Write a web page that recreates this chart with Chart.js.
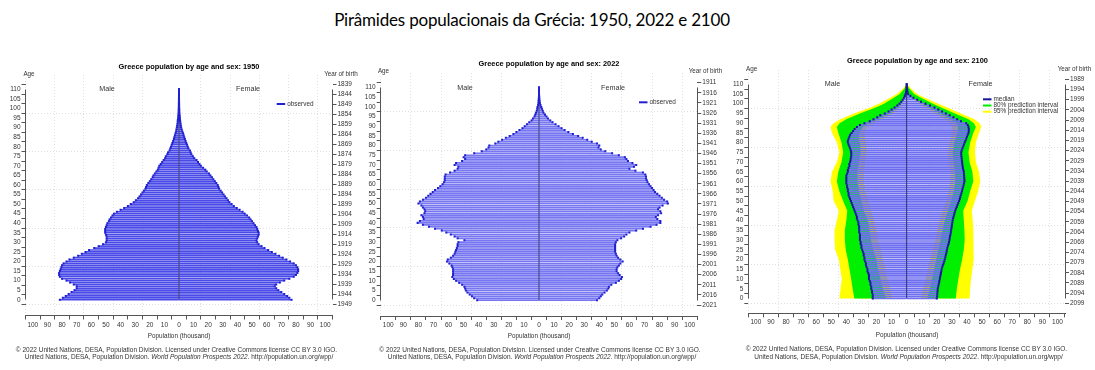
<!DOCTYPE html>
<html><head><meta charset="utf-8">
<script src="https://cdn.jsdelivr.net/npm/chart.js@4.4.1/dist/chart.umd.min.js"></script>
<style>
html,body{margin:0;padding:0;background:#fff;}
body{width:1095px;height:370px;position:relative;overflow:hidden;}
#title{position:absolute;left:0;top:9px;width:1064px;text-align:center;font-family:Lato,"Open Sans",sans-serif;font-size:17px;color:#000;line-height:22px;letter-spacing:-0.2px;}
canvas{position:absolute;top:0;}
</style></head><body>
<div id="title">Pirâmides populacionais da Grécia: 1950, 2022 e 2100</div>
<canvas id="c1" width="362" height="370" style="left:0px"></canvas>
<canvas id="c2" width="365" height="370" style="left:358px"></canvas>
<canvas id="c3" width="368" height="370" style="left:727px"></canvas>
<script>
// ---------- DATA (population in thousands, single years of age 0..110) ----------
const panelYears = [1950, 2022, 2100];
const ages = Array.from({length: 111}, (_, i) => i);
const ageTicks = [0,5,10,15,20,25,30,35,40,45,50,55,60,65,70,75,80,85,90,95,100,105,110];
const popTicks = [-100,-90,-80,-70,-60,-50,-40,-30,-20,-10,0,10,20,30,40,50,60,70,80,90,100];

const male1950 = [81.5,79.5,77.5,75.5,73.5,71.5,70,70,72,74.5,
 77,80,81.5,82,82,81.5,81,80.5,80,79,
 77,75,72,69,66.5,64,61.5,58,55,52,
 50,49.5,49.5,49.5,50,50.5,50.5,50.5,50,49.5,
 49,48,47.5,46.5,45.5,44.5,42.5,40,37.5,35,
 33,31,29.5,28,27,26,25,24,23,22.5,
 22,21,20,19,18,17.5,16.5,15.5,14.5,14,
 13.5,12.5,11.5,10.5,9.5,9,8,7.5,6.5,6,
 5.5,5,4.5,4,3.5,3.2,2.8,2.4,2,1.8,
 1.5,1.3,1.1,0.9,0.8,0.6,0.5,0.4,0.3,0.25,
 0.2,0.15,0.1,0.1,0.05,0.05,0,0,0,0,0];
const female1950 = [77,75.5,74,72,70,68,66.5,65.5,66.5,69,
 72,75.5,78.5,80,81,81.5,81.5,81,80,78.5,
 76,73.5,71,68.5,66,63.5,61,58.5,56.5,54.5,
 53.5,53,53.5,54,54.5,54.5,54,53.5,53,52,
 51,50,49,48,46.5,45,43.5,41.5,39.5,37.5,
 36,34.5,33.5,32.5,31.5,30.5,29.5,28.5,27.5,27,
 26.5,25.5,24.5,23.5,22.5,21.5,20.5,19,18,16.5,
 15,14,13,12,10.5,9.5,8.5,8,7.5,6.5,
 6,5.5,5,4.5,4,3.6,3.2,2.8,2.3,1.9,
 1.5,1.3,1.1,0.9,0.7,0.6,0.5,0.4,0.3,0.2,
 0.2,0.1,0.1,0.05,0.05,0,0,0,0,0,0];

const male2022 = [41,43,44.5,46,47.5,48.5,49,49.5,51,53,
 55,56.5,57.5,57,57,57,57,57.5,58,59.5,
 61,60.5,58.5,57,56,55.5,55,54.5,54,54,
 53.5,49.5,54,56,58.5,61.5,64.5,69,73,77,
 80.5,79,76.5,77,78,76,75.5,76,77,78,
 80,79,77,75,73.5,72,70.5,69,67,65.5,
 64,63,62.5,62.5,62.5,62,59,56,54,53.5,
 56,55,51,49,50,49,43,38,35,33.5,
 33,29,27,24.5,22,19.5,17,15,13,11,
 9.5,8,6.5,5,4,3,2.5,2,1.5,1.2,
 1,0.6,0.4,0.3,0.2,0.1,0,0,0,0,0];
const female2022 = [38.5,40,41,42,43.5,45,46,46.5,48,51,
 53,54.5,55,53.5,52.5,51.5,51.5,52,53,54,
 55.5,54,52.5,51.5,51,50.5,50.5,50.5,50.5,50.5,
 51,52,54.5,56.5,58,60,64.5,69,74,78,
 80.5,80.5,78.5,77.5,79,81,80.5,79,80,82,
 85.5,85,83,81.5,80,78.5,77,76,75,74,
 73,72,71.5,71,71,70.5,69,64,60,63,
 64.5,62,59,58,57,53,48.5,44,41,39.5,
 40,38.5,35,32,29,26,22.5,19.5,17,15,
 13,11,9,7.5,6,5,4,3,2.5,2,
 1.5,1,0.6,0.4,0.3,0.2,0.1,0,0,0,0];

const male2100 = [22.5,22.5,22.5,23,23,23.5,23.5,24,24,24.5,
 25,25,25,25.5,26,26,26.5,27,27,27.5,
 28,28,28.5,28.5,29,29.5,30,30,30.5,30.5,
 31,31,31,31,31.5,31.5,31.5,31.5,32,32,
 32.5,33,33,33.5,34,34.5,35,35.5,36,36.5,
 37,37.5,38,38.5,38.5,39,39,39.5,39.5,40,
 40,40,40,40,39.5,39,39,38.5,38,38,
 37.5,37.2,37,36.8,36.7,36.8,37,37.5,38,38.5,
 39,39,38.5,38,37.5,36.5,35.5,34.5,33,31,
 28,24.5,22,19.5,17.5,14.5,12,10,8,6.2,
 4.8,3.6,2.6,1.8,1.2,0.7,0.4,0.2,0.1,0,0];
const female2100 = [20,20.2,20.3,20.4,20.5,20.6,20.9,21.2,21.5,21.7,
 22,22.2,22.5,22.7,23,23.2,23.6,24,24.5,24.9,
 25.3,25.6,25.9,26.2,26.5,26.7,27,27.4,27.8,28.1,
 28.4,28.6,28.8,29.1,29.3,29.5,29.7,29.9,30.1,30.3,
 30.5,30.8,31.1,31.5,31.8,32.2,32.7,33.2,33.7,34.2,
 34.8,35.2,35.5,35.9,36.3,36.7,37,37.3,37.7,38,
 38.3,38.3,38.2,38.1,38,37.9,37.6,37.3,37.1,36.9,
 36.8,36.6,36.5,36.3,36.2,36.2,36.5,37,37.5,38,
 38.5,39,39.5,40,40.5,41,41.2,41.2,41,40.5,
 39.5,36,33.5,31,28.5,26,23.5,21,18.5,15.5,
 12.5,9.5,7,4.5,2.5,1,0.6,0.4,0.2,0.1,0.1];

// 2100 prediction intervals (read at these ages)
const bandAges = [0,5,10,15,20,25,30,35,40,45,50,55,60,65,70,75,80,85,88,90,92,95,98,100,103,105,108,110];
const male95lo = [9.5,11,12.6,14.1,15.8,17.3,19,20,21.5,23.6,25.3,27.4,28.4,28.4,27.4,26.3,27,28,26,22,16,9,4,2.5,1,0.3,0,0];
const male80lo = [13.7,15.8,17.3,19,20,22.1,23.6,24.6,25.7,28.4,30,31.6,32.6,32.6,31.6,30.5,31,31.5,29,25,19,11,5.5,3.5,1.5,0.5,0,0];
const male80hi = [34.7,35.8,36.8,37.9,39,40.4,41,41,40,39.4,42.1,44.6,46.3,45.3,43.2,42.1,43.2,45.3,46.3,44.5,40,31,20.5,15,8.5,4.5,1.2,0.3];
const male95hi = [44.6,43.8,43,44,45,47.4,47.8,47.8,46.3,45,48.4,49,50.5,49.5,46.3,44.6,46.3,49.5,50.5,48.5,44,35,24,18.5,11,6.5,2,0.5];
const female95lo = [9.5,10.9,12.6,14.1,15.6,17.3,19,20.2,21.7,23.8,26.3,27.8,29,29,27.8,27.4,28.4,29.9,30,29,25.5,19,12.5,8.5,3,0.5,0,0];
const female80lo = [13.7,15.4,16.8,18.3,19.6,21,22.5,23.8,25.3,27.4,29.5,31.2,32.2,32,31.2,30.5,31.6,33.7,34,33.3,29,22,15,10.5,4,0.8,0,0];
const female80hi = [32.6,33.3,34.3,35.4,36.8,37.9,38.5,38.3,37.9,37.5,40.4,42.1,44.2,43.6,41.7,41,42.1,44.2,45.9,44.6,41,32,23,17.5,9.5,5,1.5,0.3];
const female95hi = [41.7,42.1,42.7,43.6,44.2,44.6,44.6,44.2,43.8,43.2,45.3,47.4,48.8,48,45.9,45.3,45.9,48,49.5,48.4,45,36,27,21,12,7,2.5,0.5];

// ---------- STYLE / LAYOUT ----------
const FONT = '"Liberation Sans", Arial, sans-serif';
const tickFont = {family: FONT, size: 6.5};
const axisColor = '#555';
const labelColor = '#333';
const gridColor = '#e0e0e0';
const CLEAR = 'rgba(0,0,0,0)';

const panels = [
  {id:'c1', year:panelYears[0], male:male1950, female:female1950, bands:false, markerColor:'#2020d0', barColor:'#4a4ae8',
   box:{left:25.5,right:332.5,top:75,bottom:315.5,age0:304.5,age110:84.5},
   pos:{title:[189,66.7], age:[29,74.3], yob:[341,74.3], male:[107,89.3], female:[248,89.3], legend:[276.7,104], pop:[179,336], cr1:[176.5,350.3], cr2:[179,357.5]}},
  {id:'c2', year:panelYears[1], male:male2022, female:female2022, bands:false, markerColor:'#2020d0', barColor:'#7777f2',
   box:{left:22.7,right:339.3,top:73,bottom:316,age0:305,age110:82.7},
   pos:{title:[191,64.3], age:[25.5,71.7], yob:[347.5,71.7], male:[107,87.7], female:[255,87.7], legend:[281,102.3], pop:[181,336.7], cr1:[182,350.3], cr2:[184,357.5]}},
  {id:'c3', year:panelYears[2], male:male2100, female:female2100, bands:true, markerColor:'#16169a', barColor:'#6e6ef0',
   box:{left:21.3,right:338,top:70,bottom:313.3,age0:303.3,age110:79.3},
   pos:{title:[190.5,61], age:[24.7,69.3], yob:[347.5,69.3], male:[105.5,84.3], female:[253.5,84.3], legend:[256,99.3], pop:[180,335], cr1:[179.5,349.5], cr2:[181.5,357.5]}}
];

function txt(ctx, s, x, y, o) {
  o = o || {};
  ctx.font = (o.style || 'normal') + ' ' + (o.weight || 'normal') + ' ' + (o.size || 6.5) + 'px ' + FONT;
  ctx.fillStyle = o.color || labelColor;
  ctx.textAlign = o.align || 'center';
  ctx.textBaseline = 'middle';
  ctx.fillText(s, x, y);
}
const al = v => Math.round(v - 0.5) + 0.5;

function decor(p) {
  return {
    id: 'decor_' + p.id,
    afterDraw(chart) {
      const ctx = chart.ctx, ca = chart.chartArea, y = chart.scales.y;
      ctx.save();
      // R-style age axes spanning only the age range
      const yt = al(y.getPixelForValue(ages[ages.length - 1]));
      const yb = al(y.getPixelForValue(ages[0]));
      ctx.strokeStyle = axisColor; ctx.lineWidth = 1; ctx.setLineDash([]);
      ctx.beginPath();
      ctx.moveTo(al(ca.left), yt); ctx.lineTo(al(ca.left), yb);
      ctx.moveTo(al(ca.right), yt); ctx.lineTo(al(ca.right), yb);
      ctx.stroke();
      const P = p.pos;
      txt(ctx, 'Greece population by age and sex: ' + p.year, P.title[0], P.title[1], {size: 7.4, weight: 'bold', color: '#000'});
      txt(ctx, 'Age', P.age[0], P.age[1], {size: 6.3});
      txt(ctx, 'Year of birth', P.yob[0], P.yob[1], {size: 6.3});
      txt(ctx, 'Male', P.male[0], P.male[1], {size: 7.2});
      txt(ctx, 'Female', P.female[0], P.female[1], {size: 7.2});
      txt(ctx, 'Population (thousand)', P.pop[0], P.pop[1], {size: 6.4});
      // legend
      const lx = P.legend[0], ly = P.legend[1];
      const rows = p.bands
        ? [['median', p.markerColor], ['80% prediction interval', '#00ee00'], ['95% prediction interval', '#ffff00']]
        : [['observed', p.markerColor]];
      rows.forEach((r, i) => {
        const yy = ly + i * 6.2;
        ctx.strokeStyle = r[1]; ctx.lineWidth = 2;
        ctx.beginPath(); ctx.moveTo(lx, yy); ctx.lineTo(lx + 8.5, yy); ctx.stroke();
        txt(ctx, r[0], lx + 10.5, yy, {size: 6.4, align: 'left'});
      });
      // copyright
      txt(ctx, '\u00a9 2022 United Nations, DESA, Population Division. Licensed under Creative Commons license CC BY 3.0 IGO.', P.cr1[0], P.cr1[1], {size: 6.5});
      const parts = [['United Nations, DESA, Population Division. ', 'normal'], ['World Population Prospects 2022', 'italic'], ['. http://population.un.org/wpp/', 'normal']];
      let tot = 0;
      parts.forEach(q => { ctx.font = q[1] + ' normal 6.5px ' + FONT; q.push(ctx.measureText(q[0]).width); tot += q[2]; });
      let sx = P.cr2[0] - tot / 2;
      parts.forEach(q => { txt(ctx, q[0], sx, P.cr2[1], {size: 6.5, style: q[1], align: 'left'}); sx += q[2]; });
      ctx.restore();
    }
  };
}

function polygon(sign, lo, hi) {
  const a = bandAges.map((ag, i) => ({x: sign * lo[i], y: ag}));
  const b = bandAges.map((ag, i) => ({x: sign * hi[i], y: ag})).reverse();
  return a.concat(b);
}

function makeChart(p) {
  const canvas = document.getElementById(p.id);
  const W = canvas.width, H = canvas.height, B = p.box;
  const ppu = (B.age0 - B.age110) / 110;
  const yMin = -(B.bottom - B.age0) / ppu;
  const yMax = 110 + (B.age110 - B.top) / ppu;
  const datasets = [];
  if (p.bands) {
    const band = (data, color, order) => ({type: 'line', indexAxis: 'y', data, fill: 'shape', backgroundColor: color,
      borderColor: CLEAR, borderWidth: 0, pointRadius: 0, tension: 0, order});
    datasets.push(band(polygon(-1, male95lo, male95hi), '#ffff00', 20));
    datasets.push(band(polygon(1, female95lo, female95hi), '#ffff00', 19));
    datasets.push(band(polygon(-1, male80lo, male80hi), '#00f000', 18));
    datasets.push(band(polygon(1, female80lo, female80hi), '#00f000', 17));
  }
  datasets.push({type: 'bar', indexAxis: 'y', grouped: false, data: ages.map(a => ({x: -p.male[a], y: a})),
    backgroundColor: p.barColor, barThickness: 1, borderWidth: 0, order: 6});
  datasets.push({type: 'bar', indexAxis: 'y', grouped: false, data: ages.map(a => ({x: p.female[a], y: a})),
    backgroundColor: p.barColor, barThickness: 1, borderWidth: 0, order: 5});
  datasets.push({type: 'line', data: [{x: 0, y: ages[0]}, {x: 0, y: ages[ages.length - 1]}],
    borderColor: '#2a2a78', borderWidth: 1, pointRadius: 0, fill: false, order: 3});
  datasets.push({type: 'scatter', data: ages.map(a => ({x: -p.male[a], y: a})).concat(ages.map(a => ({x: p.female[a], y: a}))),
    pointStyle: 'rect', pointRadius: 1.42, pointBackgroundColor: p.markerColor, pointBorderWidth: 0, order: 1});

  return new Chart(canvas, {
    type: 'bar',
    data: {datasets},
    options: {
      responsive: false, animation: false, devicePixelRatio: 1, events: [],
      layout: {padding: {top: B.top, left: 0, right: 0, bottom: 0}, autoPadding: false},
      plugins: {legend: {display: false}, tooltip: {enabled: false}, title: {display: false}},
      scales: {
        x: {type: 'linear', position: 'bottom', min: -100, max: 100,
          afterFit: s => { s.height = H - B.bottom; },
          afterBuildTicks: s => { s.ticks = popTicks.map(v => ({value: v})); },
          ticks: {autoSkip: false, maxRotation: 0, minRotation: 0, padding: 1.5, font: tickFont, color: labelColor,
            callback: v => String(Math.abs(v))},
          grid: {color: c => (c.tick && c.tick.value % 20 === 0 && c.tick.value !== 0) ? gridColor : CLEAR,
            lineWidth: 1, drawTicks: true, tickLength: 4, tickColor: axisColor, tickWidth: 1},
          border: {display: true, color: axisColor, width: 1, dash: [1, 2]}},
        y: {type: 'linear', position: 'left', min: yMin, max: yMax,
          afterFit: s => { s.width = B.left; },
          afterBuildTicks: s => { s.ticks = ageTicks.map(v => ({value: v})); },
          ticks: {autoSkip: false, padding: 1, font: tickFont, color: labelColor, callback: v => String(v)},
          grid: {color: c => (c.tick && c.tick.value % 20 === 0) ? gridColor : CLEAR,
            lineWidth: 1, drawTicks: true, tickLength: 4, tickColor: axisColor, tickWidth: 1},
          border: {display: false, dash: [1, 2]}},
        y2: {type: 'linear', position: 'right', min: yMin, max: yMax,
          afterFit: s => { s.width = W - B.right; },
          afterBuildTicks: s => { s.ticks = ageTicks.map(v => ({value: v})); },
          ticks: {autoSkip: false, padding: 1, font: tickFont, color: labelColor, callback: v => String(p.year - 1 - v)},
          grid: {drawOnChartArea: false, drawTicks: true, tickLength: 4, tickColor: axisColor, tickWidth: 1},
          border: {display: false}}
      }
    },
    plugins: [decor(p)]
  });
}
panels.forEach(makeChart);
</script>
</body></html>
